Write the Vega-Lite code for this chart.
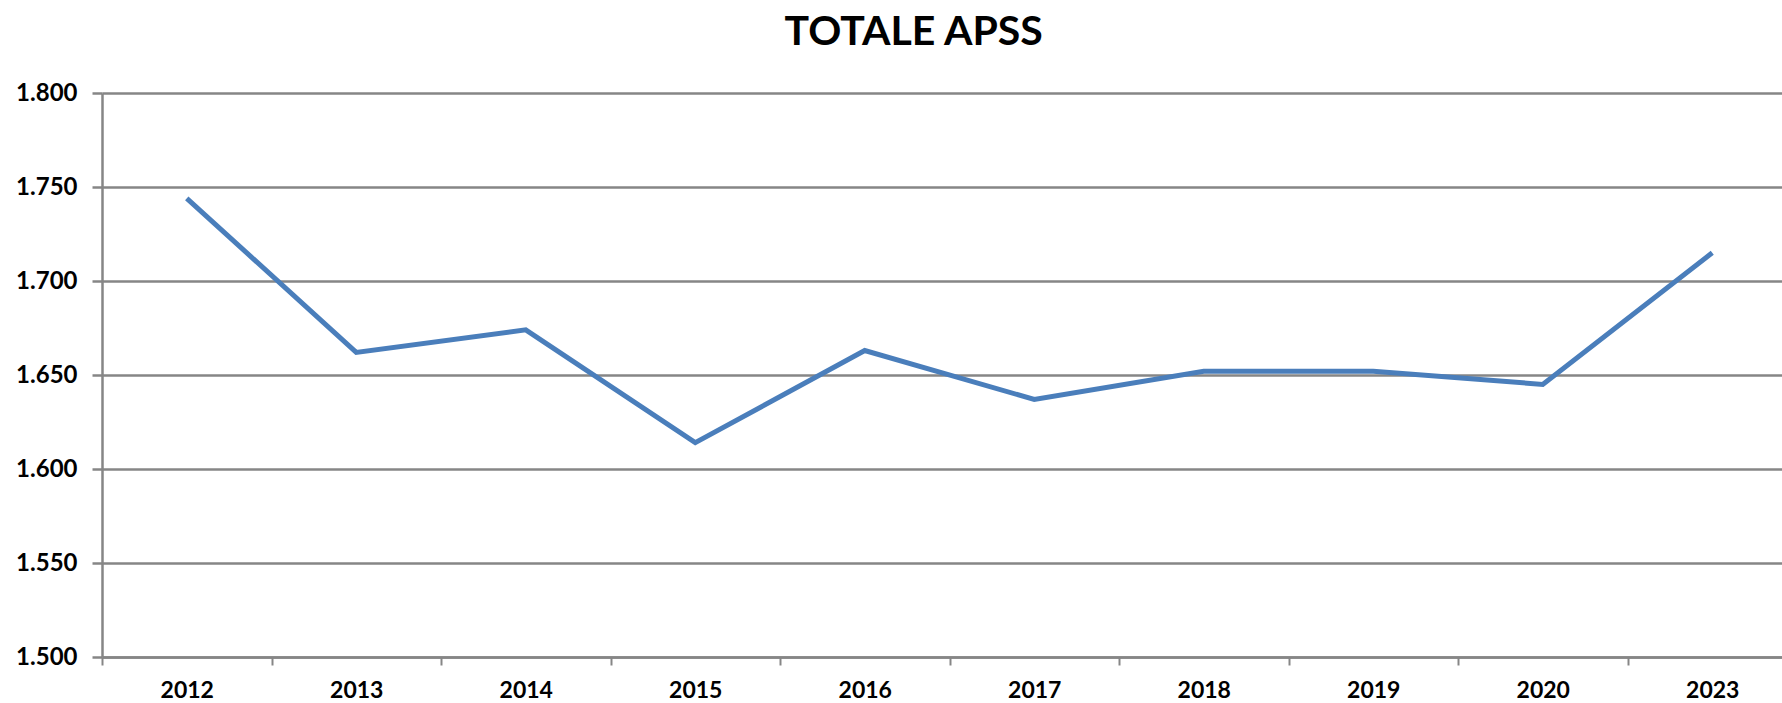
{
  "$schema": "https://vega.github.io/schema/vega-lite/v6.json",
  "autosize": {"type": "none"},
  "width": 1680,
  "height": 564,
  "padding": {"left": 102, "top": 93, "right": 0, "bottom": 46},
  "background": "white",
  "config": {
    "view": {"stroke": null},
    "locale": {"number": {"decimal": ",", "thousands": ".", "grouping": [3], "currency": ["€", ""]}},
    "font": "Lato"
  },
  "title": {
    "text": "TOTALE APSS",
    "font": "Lato",
    "fontSize": 41,
    "fontWeight": "bold",
    "color": "#000000",
    "anchor": "start",
    "frame": "bounds",
    "dx": 769,
    "offset": 27
  },
  "data": {
    "values": [
      {"anno": "2012", "valore": 1744},
      {"anno": "2013", "valore": 1662},
      {"anno": "2014", "valore": 1674},
      {"anno": "2015", "valore": 1614},
      {"anno": "2016", "valore": 1663},
      {"anno": "2017", "valore": 1637},
      {"anno": "2018", "valore": 1652},
      {"anno": "2019", "valore": 1652},
      {"anno": "2020", "valore": 1645},
      {"anno": "2023", "valore": 1715}
    ]
  },
  "mark": {"type": "line", "color": "#4A7EBB", "strokeWidth": 5, "strokeJoin": "miter", "clip": false},
  "encoding": {
    "x": {
      "field": "anno",
      "type": "ordinal",
      "scale": {"type": "band", "paddingInner": 0, "paddingOuter": 0, "range": [0, 1695]},
      "axis": {
        "title": null,
        "labelAngle": 0,
        "labelFont": "Lato",
        "labelFontSize": 23,
        "labelFontWeight": "bold",
        "labelColor": "#000000",
        "labelPadding": 14,
        "domainColor": "#868686",
        "domainWidth": 2.5,
        "tickColor": "#868686",
        "tickWidth": 2,
        "tickSize": 8,
        "tickBand": "extent",
        "grid": false
      }
    },
    "y": {
      "field": "valore",
      "type": "quantitative",
      "scale": {"domain": [1500, 1800], "nice": false, "zero": false},
      "axis": {
        "title": null,
        "values": [1500, 1550, 1600, 1650, 1700, 1750, 1800],
        "format": ",.0f",
        "labelFont": "Lato",
        "labelFontSize": 24,
        "labelFontWeight": "bold",
        "labelColor": "#000000",
        "labelPadding": 15,
        "domainColor": "#868686",
        "domainWidth": 2.5,
        "tickColor": "#868686",
        "tickWidth": 2.5,
        "tickSize": 10,
        "grid": true,
        "gridColor": "#868686",
        "gridWidth": 2.5
      }
    }
  }
}
